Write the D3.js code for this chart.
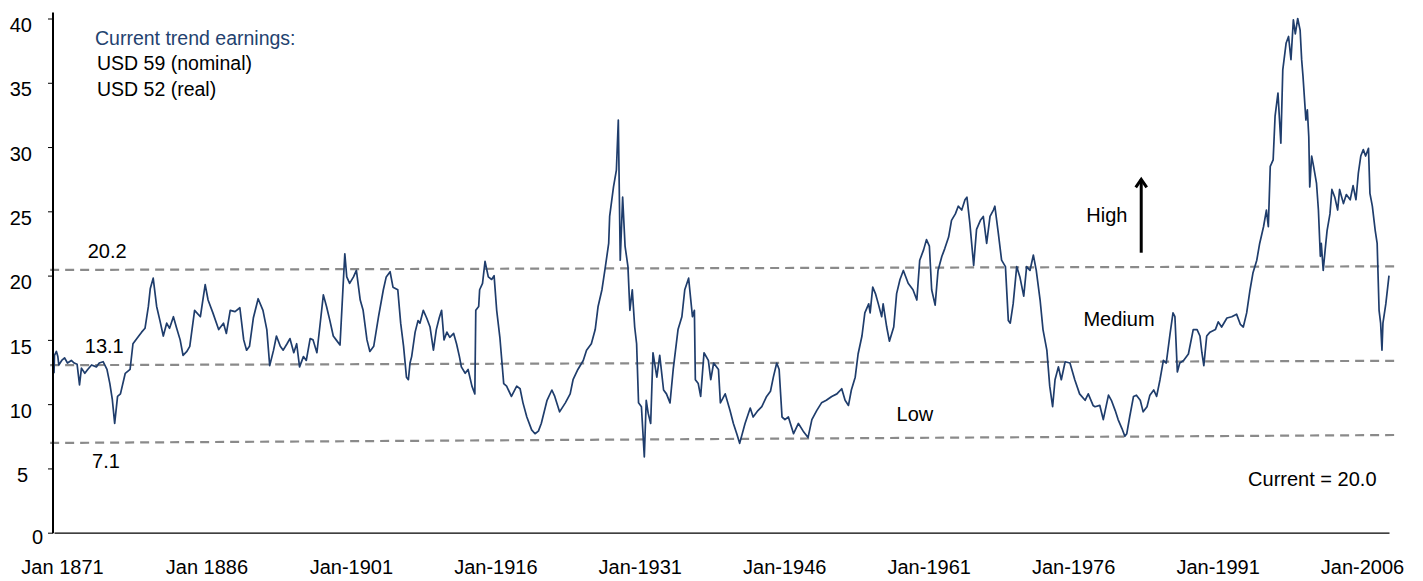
<!DOCTYPE html>
<html><head><meta charset="utf-8">
<script src="https://cdn.jsdelivr.net/npm/d3@7"></script>
<style>
html,body{margin:0;padding:0;background:#fff;}
svg{display:block;font-family:"Liberation Sans",Arial,Helvetica,sans-serif;}
</style></head><body>
<svg id="chart" width="1423" height="581"></svg>
<script>
// ---- data (decimal year, price / trend earnings) ----
const dates = [
1871.0,1871.05,1871.25,1871.4,1871.5,1871.8,1872.1,1872.4,1872.8,1873.1,1873.4,1873.65,1873.85,1874.2,1874.5,1874.9,1875.4,1875.7,1876.1,1876.5,1876.8,1877.05,1877.3,1877.6,1877.9,1878.4,1878.9,1879.2,1879.8,1880.1,1880.45,1880.8,1881.0,1881.3,1881.66,1882.0,1882.35,1882.7,1883.0,1883.4,1883.7,1884.1,1884.4,1884.8,1885.1,1885.6,1886.2,1886.7,1887.0,1887.5,1888.1,1888.6,1888.9,1889.3,1889.8,1890.3,1890.7,1891.0,1891.3,1891.7,1892.2,1892.7,1893.1,1893.4,1893.8,1894.1,1894.5,1894.8,1895.2,1895.5,1895.9,1896.2,1896.5,1896.9,1897.2,1897.6,1897.9,1898.3,1898.6,1898.97,1899.3,1899.65,1900.0,1900.3,1900.7,1901.0,1901.2,1901.4,1901.7,1902.1,1902.4,1902.8,1903.1,1903.5,1903.8,1904.2,1904.7,1905.2,1905.5,1905.9,1906.2,1906.7,1907.0,1907.3,1907.6,1907.8,1907.97,
1908.14,1908.5,1908.8,1909.0,1909.35,1909.7,1910.05,1910.4,1910.7,1911.0,1911.25,1911.5,1911.8,1912.1,1912.5,1912.8,1913.1,1913.3,1913.7,1914.0,1914.4,1914.7,1914.8,1915.1,1915.2,1915.5,1915.76,1916.1,1916.45,1916.7,1916.97,1917.3,1917.7,1918.0,1918.5,1919.05,1919.4,1919.7,1920.1,1920.6,1920.95,1921.3,1921.6,1922.2,1922.7,1923.0,1923.5,1924.1,1924.6,1924.9,1925.4,1925.96,1926.3,1926.8,1927.2,1927.5,1927.9,1928.2,1928.6,1928.7,1929.1,1929.4,1929.6,1929.8,1930.05,1930.3,1930.6,1930.8,1931.05,1931.3,1931.5,1931.7,1932.0,1932.3,1932.5,1932.7,1932.96,1933.2,1933.6,1933.9,1934.3,1934.6,1934.97,1935.3,1935.8,1936.2,1936.5,1936.9,1937.3,1937.5,1937.6,1937.9,1938.15,1938.5,1938.95,1939.2,1939.5,1940.0,1940.2,1940.7,1941.2,1941.55,1941.9,1942.2,
1942.76,1943.3,1943.6,1944.1,1944.5,1945.0,1945.4,1945.7,1946.05,1946.3,1946.6,1946.9,1947.26,1947.8,1948.3,1948.8,1949.3,1949.7,1950.2,1950.7,1951.2,1951.76,1952.3,1952.8,1953.15,1953.5,1953.8,1954.2,1954.5,1954.9,1955.2,1955.6,1955.75,1956.02,1956.3,1956.6,1956.95,1957.1,1957.47,1957.75,1958.2,1958.5,1958.85,1959.2,1959.7,1960.2,1960.6,1960.9,1961.3,1961.6,1961.9,1962.14,1962.5,1962.8,1963.2,1963.5,1963.9,1964.2,1964.6,1964.9,1965.26,1965.6,1965.8,1966.1,1966.5,1966.8,1967.2,1967.5,1967.85,1968.2,1968.55,1968.7,1969.06,1969.4,1969.8,1970.1,1970.3,1970.6,1970.97,1971.3,1971.7,1972.0,1972.35,1972.7,1973.0,1973.4,1973.7,1974.1,1974.4,1974.7,1974.95,1975.3,1975.6,1976.0,1976.5,1977.0,1977.5,1978.07,1978.4,
1978.9,1979.1,1979.6,1979.96,1980.5,1980.8,1981.2,1981.5,1981.9,1982.2,1982.4,1982.7,1983.1,1983.4,1983.8,1984.1,1984.5,1984.8,1985.2,1985.5,1985.85,1986.2,1986.5,1986.9,1987.2,1987.4,1987.65,1987.9,1988.3,1988.8,1989.3,1989.7,1990.0,1990.2,1990.4,1990.7,1991.04,1991.6,1991.9,1992.25,1992.8,1993.3,1993.8,1994.2,1994.5,1994.85,1995.2,1995.5,1995.9,1996.2,1996.6,1996.9,1997.1,1997.3,1997.6,1997.8,1998.1,1998.4,1998.6,1998.95,1999.2,1999.45,1999.7,1999.9,2000.15,2000.4,2000.56,2000.7,2001.0,2001.15,2001.3,2001.4,2001.6,2001.8,2002.1,2002.3,2002.5,2002.6,2002.8,2003.0,2003.2,2003.5,2003.7,2004.0,2004.3,2004.5,2004.9,2005.2,2005.6,2005.9,2006.2,2006.45,2006.7,2006.96,2007.2,2007.5,2007.65,2007.9,2008.2,2008.4,2008.6,2008.76,2008.9,2009.0,2009.3,2009.63
];
const peValues = [
12.4,13.8,14.1,13.7,13.05,13.4,13.6,13.2,13.4,13.2,13.1,11.5,12.8,12.4,12.7,13.05,12.9,13.2,13.3,12.7,11.6,10.4,8.5,10.6,10.8,12.4,12.7,14.7,15.3,15.6,15.9,17.6,19.0,19.8,17.6,16.5,15.3,16.3,15.9,16.8,16.0,15.0,13.8,14.1,14.5,17.3,16.8,19.3,18.1,17.1,15.8,16.3,15.5,17.3,17.2,17.5,15.0,14.2,14.5,16.7,18.2,17.3,15.8,13.0,14.2,15.3,14.5,14.2,14.7,15.1,14.0,14.7,12.9,13.7,13.4,15.1,15.0,14.0,16.0,18.5,17.6,16.5,15.3,15.0,14.6,18.9,21.7,19.9,19.4,19.9,20.4,18.1,17.3,15.0,14.1,14.5,16.8,18.9,19.9,20.3,19.1,18.9,16.3,14.5,12.1,11.9,13.2,
13.7,15.6,16.5,16.3,17.3,16.7,16.0,14.2,15.8,16.7,17.3,15.0,15.6,15.2,15.5,14.7,13.7,12.9,12.4,12.7,11.4,10.8,17.3,17.6,18.9,19.4,21.1,19.9,19.7,20.0,17.3,15.2,11.6,11.4,10.6,11.4,11.2,10.1,9.0,8.0,7.7,7.9,8.5,10.3,11.1,10.6,9.4,10.1,10.8,11.9,12.7,13.4,14.2,14.7,15.8,17.6,18.9,20.4,22.5,24.6,26.9,28.2,32.1,21.2,26.1,22.3,20.7,17.3,18.9,16.0,14.7,10.1,9.8,5.9,10.3,9.3,8.5,14.0,12.1,13.8,11.1,10.8,10.1,12.7,15.8,16.8,18.9,19.8,16.8,17.3,11.9,11.6,10.6,14.0,13.4,11.9,13.2,12.7,10.1,10.8,9.5,8.5,7.7,6.95,
8.5,9.7,9.0,9.5,9.8,10.6,11.0,12.1,13.2,12.7,9.0,8.8,9.0,7.7,8.5,7.9,7.4,8.8,9.5,10.1,10.3,10.6,10.8,11.2,10.3,9.9,11.1,12.1,13.9,15.3,17.1,17.8,17.1,19.1,18.6,17.8,16.8,17.8,16.0,14.9,16.0,18.6,19.7,20.4,19.4,18.9,18.1,21.2,22.0,22.8,22.3,18.9,17.7,20.4,21.5,22.1,23.0,24.3,24.8,25.4,25.1,25.9,26.1,24.1,20.8,23.6,24.3,24.6,22.5,24.6,25.1,25.4,23.3,21.2,20.7,16.5,16.3,17.8,20.7,19.9,18.4,20.7,20.4,21.6,20.4,18.1,15.8,14.2,11.4,9.8,11.9,12.9,11.9,13.3,13.2,11.9,10.8,10.3,10.8,
9.9,9.8,9.9,8.8,10.7,10.3,9.5,8.8,8.1,7.5,7.7,9.0,10.6,10.7,10.3,9.4,9.8,10.7,11.1,10.6,11.9,13.4,13.2,15.5,17.1,16.8,12.5,13.2,13.4,13.9,15.8,15.8,15.3,14.0,13.0,15.3,15.6,15.8,16.4,16.0,16.7,16.8,17.0,16.2,16.0,17.1,18.9,20.2,21.2,22.5,23.8,25.1,23.8,28.5,29.0,32.4,34.2,30.3,36.0,38.1,38.6,36.8,39.9,38.8,40.0,39.1,36.8,35.5,32.1,32.9,30.8,26.9,29.3,28.5,27.2,25.1,21.5,22.5,20.4,22.0,23.5,24.8,26.7,26.1,25.1,26.7,25.6,26.3,25.9,27.0,25.9,28.0,29.3,29.8,29.3,29.9,26.4,25.4,23.5,22.5,17.3,16.3,14.2,16.3,17.8,20.0
];
const xTickYears = [1871,1886,1901,1916,1931,1946,1961,1976,1991,2006];
const xTickLabels = ["Jan 1871","Jan 1886","Jan-1901","Jan-1916","Jan-1931","Jan-1946","Jan-1961","Jan-1976","Jan-1991","Jan-2006"];
const yTicks = [0,5,10,15,20,25,30,35,40];
const bandLabels = ["20.2","13.1","7.1"];
const bandStartValues = [20.44,13.03,6.98];
const bandEndValues = [20.72,13.37,7.6];
const bandDates = [1870.6,2010.45];
const zoneLabels = ["High","Medium","Low"];
const currentValue = 20.0;
const trendTitle = "Current trend earnings:";
const trendLines = ["USD 59 (nominal)","USD 52 (real)"];

// ---- layout ----
const svg = d3.select("#chart");
const x = d3.scaleLinear().domain([1871, 2009.63]).range([54, 1389]);
const y = d3.scaleLinear().domain([0, 40]).range([532.7, 18.5]);
const navy = "#1f3d6c";

// bands (dashed)
bandLabels.forEach((lab, i) => {
  const pts = [[bandDates[0], bandStartValues[i]], [bandDates[1], bandEndValues[i]]];
  svg.append("path")
    .attr("d", d3.line().x(d => x(d[0])).y(d => y(d[1]))(pts))
    .attr("stroke", "#8a8a8a").attr("stroke-width", 2.2)
    .attr("stroke-dasharray", "9,6").attr("fill", "none");
});

// series line
const series = dates.map((d, i) => [d, peValues[i]]);
svg.append("path")
  .attr("d", d3.line().x(d => x(d[0])).y(d => y(d[1]))(series))
  .attr("fill", "none").attr("stroke", navy).attr("stroke-width", 1.7)
  .attr("stroke-linejoin", "round");

// y axis
const yAxis = svg.append("g").attr("transform", "translate(53,0)")
  .call(d3.axisLeft(y).tickValues(yTicks).tickSize(5).tickSizeOuter(0).tickPadding(16));
yAxis.select(".domain").remove();
yAxis.selectAll("line").attr("stroke", "#000");
yAxis.selectAll("text").attr("font-size", 20).attr("fill", "#000")
  .attr("font-family", "Liberation Sans, Arial, sans-serif")
  .attr("dy", d => d === 0 ? 10.6 : 13.2)
  .attr("x", d => d === 0 ? -10 : (d === 5 ? -25 : -21));
svg.append("line").attr("x1", 53).attr("x2", 53)
  .attr("y1", y(40) - 6).attr("y2", y(0) + 0.5)
  .attr("stroke", "#000").attr("stroke-width", 2);

// x axis
const xAxis = svg.append("g").attr("transform", `translate(0,${y(0)})`)
  .call(d3.axisBottom(x).tickValues(xTickYears).tickSize(0).tickSizeOuter(0).tickPadding(27)
    .tickFormat((d, i) => xTickLabels[i]));
xAxis.select(".domain").attr("stroke", "#000").attr("stroke-width", 1.3);
xAxis.selectAll("text").attr("font-size", 20).attr("fill", "#000")
  .attr("font-family", "Liberation Sans, Arial, sans-serif").attr("x", 8);

// band value labels
const t = svg.append("g").attr("font-size", 20).attr("fill", "#000");
t.append("text").attr("x", x(1874.5)).attr("y", y(bandStartValues[0]) - 12).text(bandLabels[0]);
t.append("text").attr("x", x(1874.2)).attr("y", y(bandStartValues[1]) - 12).text(bandLabels[1]);
t.append("text").attr("x", x(1874.95)).attr("y", y(bandStartValues[2]) + 25).text(bandLabels[2]);

// zone labels
t.append("text").attr("x", x(1978.2)).attr("y", y(24.17)).text(zoneLabels[0]);
t.append("text").attr("x", x(1977.9)).attr("y", y(16.08)).text(zoneLabels[1]);
t.append("text").attr("x", x(1958.5)).attr("y", y(8.71)).text(zoneLabels[2]);
t.append("text").attr("x", x(1995.0)).attr("y", y(3.63)).text("Current = " + currentValue.toFixed(1));

// arrow
const ax = x(1983.9);
svg.append("line").attr("x1", ax).attr("x2", ax).attr("y1", y(21.78)).attr("y2", y(27.5))
  .attr("stroke", "#000").attr("stroke-width", 3);
svg.append("path").attr("d", `M${ax-5.5},${y(27.57)+9} L${ax},${y(27.57)+1} L${ax+5.5},${y(27.57)+9}`)
  .attr("fill", "none").attr("stroke", "#000").attr("stroke-width", 3).attr("stroke-linejoin", "miter");

// trend earnings note
const n = svg.append("g").attr("font-size", 19.5);
n.append("text").attr("x", 95).attr("y", 45).attr("fill", "#23426f").text(trendTitle);
trendLines.forEach((s, i) => n.append("text").attr("x", 97).attr("y", 70 + i * 26).attr("fill", "#000").text(s));
</script>
</body></html>
